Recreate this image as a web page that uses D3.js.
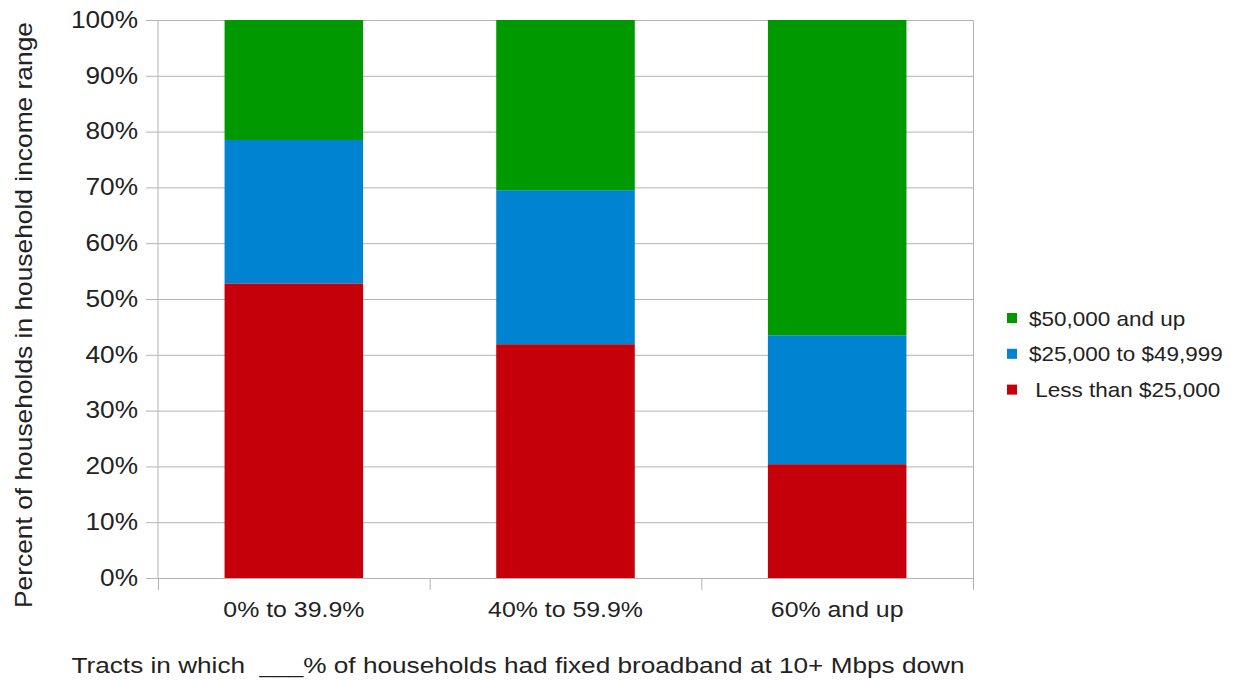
<!DOCTYPE html>
<html>
<head>
<meta charset="utf-8">
<script src="https://cdn.jsdelivr.net/npm/d3@7"></script>
<style>
  html, body { margin: 0; padding: 0; background: #fff; }
  svg { display: block; font-family: "Liberation Sans", Arial, sans-serif; }
  .axis text { fill: #222; }
</style>
</head>
<body>
<svg id="chart"></svg>
<script>
// categories along the x axis
const categories = ['0% to 39.9%', '40% to 59.9%', '60% and up'];
// income ranges, bottom to top of each stack
const seriesNames = ['Less than $25,000', '$25,000 to $49,999', '$50,000 and up'];
const legendLabels = [' Less than $25,000', '$25,000 to $49,999', '$50,000 and up'];
// share of households (%) per category, one array per series
const lowIncome = [52.8, 41.9, 20.4];
const midIncome = [25.7, 27.6, 23.1];
const highIncome = [21.5, 30.5, 56.5];
const yTicks = [0, 10, 20, 30, 40, 50, 60, 70, 80, 90, 100];

const xTitle = 'Tracts in which  ___% of households had fixed broadband at 10+ Mbps down';
const yTitle = 'Percent of households in household income range';

class StackedBars {
    constructor(_config) {
        this.config = {
            parentElement: _config.parentElement,
            containerWidth: _config.containerWidth || 1239,
            containerHeight: _config.containerHeight || 681,
            margin: {top: 20, right: 266, bottom: 103, left: 158}
        };
        this.colors = ['#c5000b', '#0084d1', '#009a00'];
        this.initVis();
    }

    // widen glyphs a little, the source image is horizontally stretched
    stretch(sel, k) {
        sel.each(function() {
            const w = this.getComputedTextLength();
            d3.select(this).attr('textLength', w * k).attr('lengthAdjust', 'spacingAndGlyphs');
        });
    }

    initVis() {
        let vis = this;
        vis.width = vis.config.containerWidth - vis.config.margin.left - vis.config.margin.right;
        vis.height = vis.config.containerHeight - vis.config.margin.top - vis.config.margin.bottom;

        vis.svg = d3.select(vis.config.parentElement)
            .attr('width', vis.config.containerWidth)
            .attr('height', vis.config.containerHeight);

        vis.chart = vis.svg.append('g')
            .attr('transform', `translate(${vis.config.margin.left},${vis.config.margin.top})`);

        vis.xScale = d3.scaleBand()
            .domain(categories)
            .range([0, vis.width])
            .paddingInner(0.49)
            .paddingOuter(0.245);

        vis.yScale = d3.scaleLinear()
            .domain([0, 100])
            .range([vis.height, 0]);

        // boundaries between categories (for the tick marks)
        vis.edgeScale = d3.scaleLinear()
            .domain([0, categories.length])
            .range([0, vis.width]);

        vis.renderVis();
    }

    renderVis() {
        let vis = this;
        const grey = '#b3b3b3';

        // gridlines, drawn from the right edge leftwards past the axis
        const grid = vis.chart.append('g')
            .attr('class', 'grid')
            .attr('transform', `translate(${vis.width},0)`)
            .call(d3.axisLeft(vis.yScale).tickValues(yTicks).tickSize(vis.width + 12).tickFormat(''));
        grid.selectAll('line').attr('stroke', grey);
        grid.select('.domain').attr('stroke', grey);

        // stacked bars
        const table = categories.map((c, i) => ({
            category: c,
            [seriesNames[0]]: lowIncome[i],
            [seriesNames[1]]: midIncome[i],
            [seriesNames[2]]: highIncome[i]
        }));
        const stacked = d3.stack().keys(seriesNames)(table);

        vis.chart.selectAll('.layer')
            .data(stacked)
          .join('g')
            .attr('class', 'layer')
            .attr('fill', (d, i) => vis.colors[i])
          .selectAll('rect')
            .data(d => d)
          .join('rect')
            .attr('x', d => vis.xScale(d.data.category))
            .attr('width', vis.xScale.bandwidth())
            .attr('y', d => vis.yScale(d[1]))
            .attr('height', d => vis.yScale(d[0]) - vis.yScale(d[1]));

        // y axis line
        vis.chart.append('line')
            .attr('x1', 0).attr('x2', 0)
            .attr('y1', 0).attr('y2', vis.height)
            .attr('stroke', grey);

        // y tick labels
        const yAxis = vis.chart.append('g')
            .attr('class', 'axis y-axis')
            .attr('transform', 'translate(-12,0)')
            .call(d3.axisLeft(vis.yScale).tickValues(yTicks).tickSize(0).tickPadding(8).tickFormat(d => d + '%'));
        yAxis.select('.domain').remove();
        yAxis.selectAll('text').attr('font-size', 23).attr('font-family', null);
        vis.stretch(yAxis.selectAll('text'), 1.14);

        // x boundary ticks
        const xTicks = vis.chart.append('g')
            .attr('transform', `translate(0,${vis.height})`)
            .call(d3.axisBottom(vis.edgeScale).ticks(categories.length).tickSize(12).tickFormat(''));
        xTicks.selectAll('line').attr('stroke', grey);
        xTicks.select('.domain').attr('stroke', grey);

        // x category labels
        const xAxis = vis.chart.append('g')
            .attr('class', 'axis x-axis')
            .attr('transform', `translate(0,${vis.height})`)
            .call(d3.axisBottom(vis.xScale).tickSize(0).tickPadding(23));
        xAxis.select('.domain').remove();
        xAxis.selectAll('text').attr('font-size', 22).attr('font-family', null);
        vis.stretch(xAxis.selectAll('text'), 1.13);

        // axis titles
        vis.svg.append('text')
            .attr('x', 518).attr('y', 673)
            .attr('text-anchor', 'middle')
            .attr('font-size', 22)
            .attr('fill', '#222')
            .style('white-space', 'pre')
            .attr('textLength', 893)
            .attr('lengthAdjust', 'spacingAndGlyphs')
            .text(xTitle);

        vis.svg.append('text')
            .attr('transform', 'translate(32,315) rotate(-90)')
            .attr('text-anchor', 'middle')
            .attr('font-size', 24)
            .attr('fill', '#222')
            .attr('textLength', 586)
            .attr('lengthAdjust', 'spacingAndGlyphs')
            .text(yTitle);

        // legend, top entry is the top of the stack
        const legendOrder = [2, 1, 0];
        const legend = vis.svg.append('g')
            .attr('transform', 'translate(1007,318)');
        const items = legend.selectAll('.legend-item')
            .data(legendOrder)
          .join('g')
            .attr('class', 'legend-item')
            .attr('transform', (d, i) => `translate(0,${i * 35.8})`);
        items.append('rect')
            .attr('x', 0).attr('y', -5)
            .attr('width', 10).attr('height', 10)
            .attr('fill', d => vis.colors[d]);
        const ltext = items.append('text')
            .attr('x', 22).attr('dy', '0.36em')
            .attr('font-size', 21)
            .attr('fill', '#222')
            .style('white-space', 'pre')
            .text(d => legendLabels[d]);
        vis.stretch(ltext, 1.07);
    }
}

new StackedBars({parentElement: '#chart'});
</script>
</body>
</html>
